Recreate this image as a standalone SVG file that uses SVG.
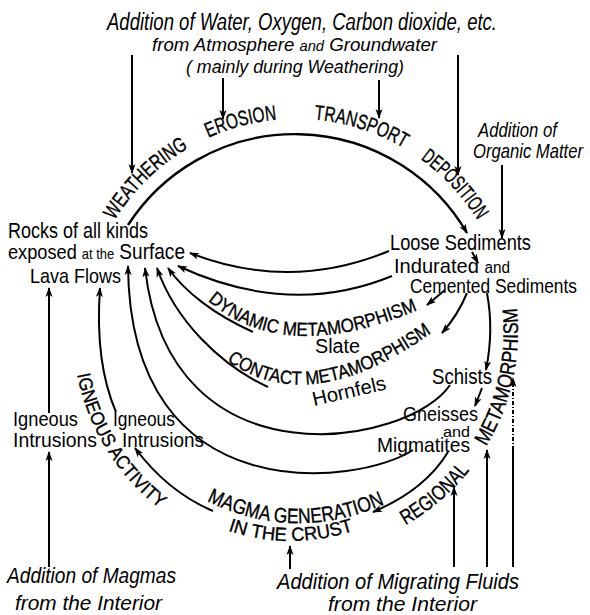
<svg xmlns="http://www.w3.org/2000/svg" xmlns:xlink="http://www.w3.org/1999/xlink" width="590" height="615" viewBox="0 0 590 615">
<style>
.ln{fill:none;stroke:#000;stroke-width:2}
.ar{marker-end:url(#ah)}
.it{font-family:"Liberation Sans",Arial,sans-serif;font-style:italic;fill:#000}
.up{font-family:"Liberation Sans",Arial,sans-serif;fill:#000}
.cap{font-family:"Liberation Sans",Arial,sans-serif;fill:#000;stroke:#000;stroke-width:0.35}
</style>
<defs>
<marker id="ah" markerUnits="userSpaceOnUse" markerWidth="10" markerHeight="8" refX="9" refY="4" orient="auto"><path d="M0,0.5 L10,4 L0,7.5 L2.5,4 z" fill="#000"/></marker>
<path id="ptop" d="M 95.8 259.1 A 213 213 0 0 1 496.2 259.1"/>
<path id="preg" d="M 353.5 546.4 A 222 222 0 0 0 504.6 256.1"/>
<path id="pign" d="M 73 332 A 223 223 0 0 0 201.8 534.1"/>
<path id="pdyn" d="M 207 300 Q 290 372 440 300"/>
<path id="pcon" d="M 226 360 Q 317 426 455 315"/>
<path id="pmag" d="M 205 500 Q 300 548 400 497"/>
<path id="pcru" d="M 226 530 Q 292 553 362 528"/>
</defs>
<rect width="590" height="615" fill="#fff"/>

<g id="connectors">
<path class="ln" d="M 128 225 A 199 199 0 0 1 467 233" style="stroke-width:2.4" marker-end="url(#ah)"/>
<path class="ln ar" d="M 132 55 L 132 173"/>
<path class="ln ar" d="M 223 78 L 223 119"/>
<path class="ln ar" d="M 379 80 L 379 118"/>
<path class="ln ar" d="M 458 55 L 458 175"/>
<path class="ln ar" d="M 502 165 L 502 238"/>
<path class="ln ar" d="M 472 252 L 478 263"/>
<path class="ln ar" d="M 389 251 Q 290 292 190 253"/>
<path class="ln ar" d="M 392 276 Q 290 318 178 266"/>
<path class="ln ar" d="M 253 332 C 215 315 185 292 168 268"/>
<path class="ln ar" d="M 268 387 C 220 365 175 320 157 268"/>
<path class="ln ar" d="M 450 385 C 410 445 170 490 145 268"/>
<path class="ln ar" d="M 413 450 C 360 485 130 515 128 266"/>
<path class="ln ar" d="M 445 290 L 427 305"/>
<path class="ln ar" d="M 467 293 Q 458 315 442 333"/>
<path class="ln ar" d="M 487 293 Q 494 330 486 370"/>
<path class="ln ar" d="M 482 388 L 475 406"/>
<path class="ln ar" d="M 448 452 Q 425 490 373 512"/>
<path class="ln ar" d="M 213 511 Q 168 492 135 448"/>
<path class="ln ar" d="M 116 412 C 100 375 97 330 100 288"/>
<path class="ln ar" d="M 49 413 L 49 288"/>
<path class="ln ar" d="M 49 567 L 49 452"/>
<path class="ln ar" d="M 290 569 L 290 546"/>
<path class="ln ar" d="M 454 567 L 454 487"/>
<path class="ln ar" d="M 487 567 L 487 450"/>
<path class="ln" d="M 513 567 L 513 450"/>
<path class="ln ar" d="M 513 450 L 513 378" style="stroke-dasharray:4 2 1 2"/>
</g>

<g id="top-additions">
<text class="it" x="107" y="30" font-size="23" textLength="390" lengthAdjust="spacingAndGlyphs">Addition of Water, Oxygen, Carbon dioxide, etc.</text>
<text class="it" x="152" y="51" font-size="19" textLength="285" lengthAdjust="spacingAndGlyphs">from Atmosphere <tspan font-size="15">and</tspan> Groundwater</text>
<text class="it" x="186" y="73" font-size="18" textLength="218" lengthAdjust="spacingAndGlyphs">( mainly during Weathering)</text>
</g>
<g id="organic">
<text class="it" x="478" y="137" font-size="21" textLength="79" lengthAdjust="spacingAndGlyphs">Addition of</text>
<text class="it" x="473" y="158" font-size="21" textLength="110" lengthAdjust="spacingAndGlyphs">Organic Matter</text>
</g>

<g id="process-labels">
<text class="cap" font-size="21"><textPath xlink:href="#ptop" href="#ptop" startOffset="42.8" textLength="104.5" lengthAdjust="spacingAndGlyphs">WEATHERING</textPath></text>
<text class="cap" font-size="21"><textPath xlink:href="#ptop" href="#ptop" startOffset="169.9" textLength="71" lengthAdjust="spacingAndGlyphs">EROSION</textPath></text>
<text class="cap" font-size="21"><textPath xlink:href="#ptop" href="#ptop" startOffset="278.4" textLength="94.8" lengthAdjust="spacingAndGlyphs">TRANSPORT</textPath></text>
<text class="cap" font-size="21"><textPath xlink:href="#ptop" href="#ptop" startOffset="393.3" textLength="84" lengthAdjust="spacingAndGlyphs">DEPOSITION</textPath></text>
<text class="cap" font-size="21"><textPath xlink:href="#preg" href="#preg" startOffset="56.2" textLength="85" lengthAdjust="spacingAndGlyphs">REGIONAL</textPath></text>
<text class="cap" font-size="21"><textPath xlink:href="#preg" href="#preg" startOffset="170.1" textLength="144.5" lengthAdjust="spacingAndGlyphs">METAMORPHISM</textPath></text>
<text class="cap" font-size="19"><textPath xlink:href="#pign" href="#pign" startOffset="42.8" textLength="160.7" lengthAdjust="spacingAndGlyphs">IGNEOUS ACTIVITY</textPath></text>
<text class="cap" font-size="19"><textPath xlink:href="#pdyn" href="#pdyn" startOffset="1" textLength="222" lengthAdjust="spacingAndGlyphs">DYNAMIC METAMORPHISM</textPath></text>
<text class="cap" font-size="19"><textPath xlink:href="#pcon" href="#pcon" startOffset="1" textLength="222" lengthAdjust="spacingAndGlyphs">CONTACT METAMORPHISM</textPath></text>
<text class="cap" font-size="21"><textPath xlink:href="#pmag" href="#pmag" startOffset="2" textLength="184" lengthAdjust="spacingAndGlyphs">MAGMA GENERATION</textPath></text>
<text class="cap" font-size="19"><textPath xlink:href="#pcru" href="#pcru" startOffset="2" textLength="128" lengthAdjust="spacingAndGlyphs">IN THE CRUST</textPath></text>
</g>

<g id="surface">
<text class="up" x="8" y="238" font-size="22" textLength="140" lengthAdjust="spacingAndGlyphs">Rocks of all kinds</text>
<text class="up" x="8" y="259" font-size="21" textLength="177" lengthAdjust="spacingAndGlyphs">exposed <tspan font-size="15">at the</tspan> <tspan font-size="22">Surface</tspan></text>
</g>
<g id="lava"><text class="up" x="30" y="283" font-size="21" textLength="91" lengthAdjust="spacingAndGlyphs">Lava Flows</text></g>
<g id="loose"><text class="up" x="390" y="250" font-size="22" textLength="141" lengthAdjust="spacingAndGlyphs">Loose Sediments</text></g>
<g id="indurated">
<text class="up" x="394" y="273" font-size="21" textLength="116" lengthAdjust="spacingAndGlyphs">Indurated <tspan font-size="16">and</tspan></text>
<text class="up" x="410" y="293" font-size="21" textLength="167" lengthAdjust="spacingAndGlyphs">Cemented Sediments</text>
</g>
<g id="slate"><text class="up" x="315" y="353" font-size="20" textLength="45" lengthAdjust="spacingAndGlyphs">Slate</text></g>
<g id="hornfels"><text class="up" x="0" y="0" font-size="20" textLength="75" lengthAdjust="spacingAndGlyphs" transform="translate(314 406) rotate(-13)">Hornfels</text></g>
<g id="schists"><text class="up" x="432" y="384" font-size="22" textLength="60" lengthAdjust="spacingAndGlyphs">Schists</text></g>
<g id="gneisses">
<text class="up" x="403" y="421" font-size="21" textLength="75" lengthAdjust="spacingAndGlyphs">Gneisses</text>
<text class="up" x="443" y="437" font-size="15" textLength="27" lengthAdjust="spacingAndGlyphs">and</text>
<text class="up" x="377" y="452" font-size="21" textLength="93" lengthAdjust="spacingAndGlyphs">Migmatites</text>
</g>
<g id="intrusions-left">
<text class="up" x="13" y="426" font-size="20" textLength="65" lengthAdjust="spacingAndGlyphs">Igneous</text>
<text class="up" x="13" y="447" font-size="20" textLength="84" lengthAdjust="spacingAndGlyphs">Intrusions</text>
</g>
<g id="intrusions-right">
<text class="up" x="113" y="426" font-size="20" textLength="62" lengthAdjust="spacingAndGlyphs">Igneous</text>
<text class="up" x="122" y="447" font-size="20" textLength="82" lengthAdjust="spacingAndGlyphs">Intrusions</text>
</g>
<g id="magmas">
<text class="it" x="7" y="583" font-size="22" textLength="169" lengthAdjust="spacingAndGlyphs">Addition of Magmas</text>
<text class="it" x="15" y="610" font-size="21" textLength="147" lengthAdjust="spacingAndGlyphs">from the Interior</text>
</g>
<g id="fluids">
<text class="it" x="277" y="589" font-size="22" textLength="242" lengthAdjust="spacingAndGlyphs">Addition of Migrating Fluids</text>
<text class="it" x="328" y="611" font-size="21" textLength="149" lengthAdjust="spacingAndGlyphs">from the Interior</text>
</g>
</svg>
